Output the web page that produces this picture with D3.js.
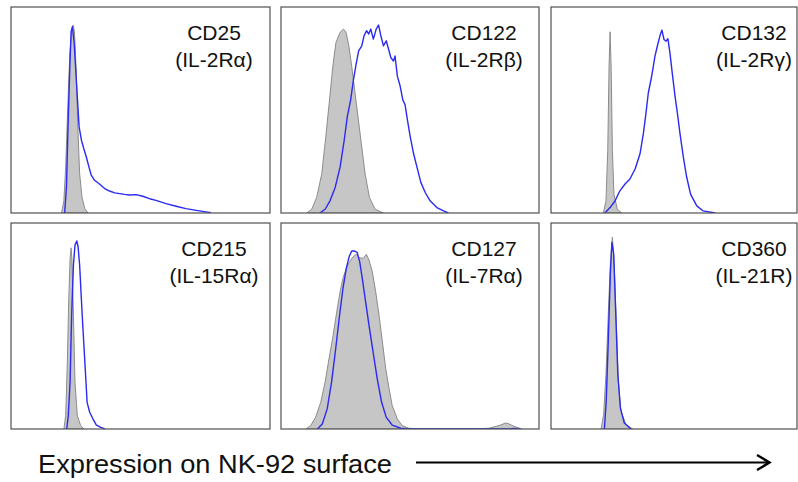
<!DOCTYPE html>
<html>
<head>
<meta charset="utf-8">
<script src="https://cdn.jsdelivr.net/npm/d3@7"></script>
<style>
  body { margin: 0; background: #fff; }
  svg { display: block; }
</style>
</head>
<body>
<svg id="chart" width="798" height="482"></svg>
<script>
// panel titles
const markers = ["CD25", "CD122", "CD132", "CD215", "CD127", "CD360"]
const receptors = ["(IL-2R\u03b1)", "(IL-2R\u03b2)", "(IL-2R\u03b3)", "(IL-15R\u03b1)", "(IL-7R\u03b1)", "(IL-21R)"]

// histograms: [fluorescence position (% of axis), cell count (% of max)]
// grey = isotype control, blue = stained
const cd25Iso = [[19.6,0],[20.5,6.7],[21.2,24.5],[22.0,56.5],[22.8,84.9],[23.6,97.3],[24.1,100],[24.6,96.4],[25.2,77.8],[25.9,45.8],[26.6,21],[27.5,8.5],[28.6,2.3],[29.9,0]]
const cd25Stain = [[20.8,0],[21.5,13.9],[22.1,45.8],[22.8,77.8],[23.3,96.4],[23.8,99.1],[24.5,90.2],[25.4,68.9],[26.4,45.8],[27.3,38.7],[28.2,34.3],[29.2,29.8],[30.2,24.5],[31.1,20.1],[32.4,17.4],[34.4,15.3],[36.3,13.0],[38.2,11.7],[40.2,10.7],[42.1,10.3],[44.0,9.9],[45.9,9.6],[48.5,9.8],[51.1,8.9],[53.7,7.6],[56.2,6.7],[60.1,5.0],[64.0,3.6],[67.8,2.3],[73.0,1.1],[77.5,0.2]]

const cd122Iso = [[10.0,0],[11.9,2],[13.8,8.2],[15.8,20.8],[17.5,42.3],[18.8,60.2],[20.1,78.1],[21.3,90.7],[22.9,96.1],[24.2,97.8],[25.2,96.1],[26.3,88.9],[27.4,78.1],[28.7,63.8],[30.0,49.5],[31.3,35.1],[32.6,20.8],[34.3,8.2],[36.5,2],[39.7,0]]
const cd122Stain = [[15.1,0],[17.1,2],[19.0,6.5],[21.0,13.6],[22.9,24.4],[24.5,38.7],[25.7,51.3],[27.0,60.2],[28.1,71.0],[29.1,79.0],[30.1,86.2],[31.3,88.9],[32.2,94.3],[33.2,97.0],[34.0,95.2],[34.8,97.8],[35.8,92.5],[36.9,97.8],[37.8,100],[38.7,94.3],[39.7,88.9],[40.8,91.6],[41.7,87.1],[42.6,82.6],[43.6,80.8],[44.2,83.5],[45.1,72.8],[46.2,67.4],[47.2,60.2],[48.1,57.5],[49.0,49.5],[50.1,40.5],[51.4,31.5],[52.7,24.4],[54.2,16.3],[55.9,10.9],[57.8,6.5],[60.4,2.9],[63.0,1.1],[64.9,0]]

const cd132Iso = [[20.3,0],[21.3,6.4],[22.0,33.3],[22.5,78],[22.9,96.4],[23.3,78],[23.8,33.3],[24.4,10],[25.7,2],[27.4,0]]
const cd132Stain = [[20.9,0],[22.9,2.9],[24.8,6.4],[26.7,11.8],[28.7,15.4],[30.6,18.1],[32.6,23.4],[34.5,31.5],[35.8,42.2],[36.8,53],[37.7,63.7],[39.0,72.6],[40.3,83.4],[41.2,88.7],[42.2,94.1],[43.0,97.3],[43.8,92.3],[44.6,91.4],[45.3,92.7],[46.1,85.2],[47.0,74.4],[48.1,61.9],[49.0,53],[50.0,42.2],[51.3,29.7],[52.6,19],[54.1,10],[56.5,3.8],[59.0,1.1],[63.6,0]]

const cd215Iso = [[20.5,0],[21.2,7.1],[21.8,33.8],[22.4,69.4],[22.9,90.7],[23.3,96.4],[23.6,90.7],[24.2,60.5],[24.8,24.9],[25.7,7.1],[27.0,1.8],[28.3,0]]
const cd215Stain = [[21.6,0],[22.2,7.1],[22.9,24.9],[23.5,60.5],[24.2,87.2],[24.8,97.9],[25.5,100],[26.0,97],[26.6,87.2],[27.6,60.5],[28.7,33.8],[29.5,14.2],[30.5,8.9],[31.8,5.3],[33.1,2.1],[34.8,0.9],[36.4,0]]

const cd127Iso = [[9.6,0],[11.5,1.8],[13.4,6.2],[15.4,14.2],[17.1,24.9],[18.6,37.4],[20.2,49.8],[21.6,62.3],[22.9,73],[24.0,80.1],[25.3,85.4],[26.6,89],[27.9,91.6],[29.2,92.9],[30.5,91.1],[31.8,90.7],[33.1,92.9],[34.1,89.9],[35.4,83.6],[36.7,73],[38.0,60.5],[39.3,46.3],[40.6,32],[41.9,21.4],[43.1,12.5],[45.1,5.3],[47.0,1.8],[49.6,0.4],[53.5,0.1],[60.0,0.1],[72.9,0],[80.6,0.4],[84.5,1.8],[87.1,3.2],[88.4,2.7],[90.3,1.4],[93.5,0]]
const cd127Stain = [[14.1,0],[16.0,2.7],[17.9,10.7],[19.6,24.9],[21.2,42.7],[22.7,60.5],[24.0,74.7],[25.3,85.4],[26.4,91.6],[27.4,94.7],[28.4,94.7],[29.5,94],[30.5,89],[31.5,80.1],[32.8,67.6],[34.1,55.2],[35.7,40.9],[37.3,26.7],[39.0,14.2],[40.8,6.2],[43.1,2.1],[46.4,0.4],[49.6,0],[88.4,0],[90.3,0.3],[92.5,0]]

const cd360Iso = [[19.4,0],[20.4,7.7],[21.3,29],[22.2,61],[23.0,87.7],[23.8,102],[24.5,87.7],[25.3,57.5],[26.1,25.4],[27.1,9.4],[29.1,2.3],[31.7,0]]
const cd360Stain = [[20.7,0],[21.4,14.8],[22.2,46.8],[23.0,82.4],[23.6,99.3],[24.3,93.1],[25.1,61],[25.9,29],[26.9,11.2],[28.4,3.2],[31.0,0]]

const isoSeries = [cd25Iso, cd122Iso, cd132Iso, cd215Iso, cd127Iso, cd360Iso]
const stainSeries = [cd25Stain, cd122Stain, cd132Stain, cd215Stain, cd127Stain, cd360Stain]

const axisLabel = "Expression on NK-92 surface"

// LAYOUT
const colLeft = [11, 281, 551]
const colWidth = [259, 258, 246]
const rowTop = [7, 223]
const panelH = 206

let svg = d3.select('#chart')

let x = d3.scaleLinear().domain([0, 100]).range([0, 258])
let y = d3.scaleLinear().domain([0, 100]).range([panelH, 18])

let area = d3.area()
    .x(d => x(d[0]))
    .y0(panelH)
    .y1(d => y(d[1]))

let line = d3.line()
    .x(d => x(d[0]))
    .y(d => y(d[1]))

markers.forEach(function(name, i){
    let col = i % 3
    let row = Math.floor(i / 3)
    let w = colWidth[col]

    let panel = svg.append('g')
        .attr('transform', `translate(${colLeft[col]},${rowTop[row]})`)

    panel.append('clipPath')
        .attr('id', 'clip-' + i)
        .append('rect')
        .attr('width', w)
        .attr('height', panelH)

    let plot = panel.append('g').attr('clip-path', `url(#clip-${i})`)

    // ISOTYPE (GREY FILL)
    plot.append('path')
        .datum(isoSeries[i])
        .attr('d', area)
        .attr('fill', '#c6c6c6')
        .attr('stroke', '#8c8c8c')
        .attr('stroke-width', 1)

    // STAINED (BLUE LINE)
    plot.append('path')
        .datum(stainSeries[i])
        .attr('d', line)
        .attr('fill', 'none')
        .attr('stroke', '#2a2af2')
        .attr('stroke-width', 1.4)
        .attr('stroke-linejoin', 'round')

    // FRAME
    panel.append('rect')
        .attr('width', w)
        .attr('height', panelH)
        .attr('fill', 'none')
        .attr('stroke', '#505050')
        .attr('stroke-width', 1.2)

    // TITLE
    let label = panel.append('text')
        .attr('text-anchor', 'middle')
        .attr('font-family', 'Liberation Sans, Arial, sans-serif')
        .attr('font-size', 21)
        .attr('fill', '#111')
    label.append('tspan').attr('x', 203).attr('y', 33).text(name)
    label.append('tspan').attr('x', 203).attr('y', 60).text(receptors[i])
})

// X AXIS LABEL + ARROW
svg.append('text')
    .attr('x', 38)
    .attr('y', 473)
    .attr('font-family', 'Liberation Sans, Arial, sans-serif')
    .attr('font-size', 26)
    .attr('textLength', 354)
    .attr('lengthAdjust', 'spacingAndGlyphs')
    .attr('fill', '#111')
    .text(axisLabel)

svg.append('line')
    .attr('x1', 416).attr('y1', 462.5)
    .attr('x2', 769).attr('y2', 462.5)
    .attr('stroke', '#000')
    .attr('stroke-width', 2)

svg.append('path')
    .attr('d', 'M757,455 L769.5,462.5 L757,470')
    .attr('fill', 'none')
    .attr('stroke', '#000')
    .attr('stroke-width', 2.4)
</script>
</body>
</html>
